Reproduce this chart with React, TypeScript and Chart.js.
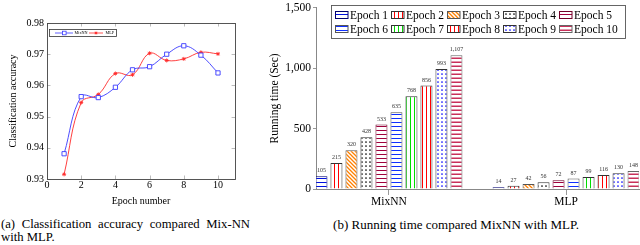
import React, { useEffect, useRef } from 'react';
import { Chart, registerables } from 'chart.js';
Chart.register(...registerables);

// ---- data: (a) accuracy ----
const epochs = [1, 2, 3, 4, 5, 6, 7, 8, 9, 10];
const mixnnAcc = [0.9381, 0.9564, 0.9561, 0.9594, 0.965, 0.966, 0.97, 0.9727, 0.9697, 0.964];
const mlpAcc = [0.9315, 0.9545, 0.9571, 0.9638, 0.9634, 0.9703, 0.968, 0.9685, 0.9706, 0.9701];
const accXTicks = [0, 2, 4, 6, 8, 10];
const accYTicks = [0.93, 0.94, 0.95, 0.96, 0.97, 0.98];
const accSeries = ['MixNN', 'MLP'];

// ---- data: (b) running time ----
const groups = ['MixNN', 'MLP'];
const epochLabels = ['Epoch 1', 'Epoch 2', 'Epoch 3', 'Epoch 4', 'Epoch 5', 'Epoch 6', 'Epoch 7', 'Epoch 8', 'Epoch 9', 'Epoch 10'];
const mixnnTime = [105, 215, 320, 428, 533, 635, 768, 856, 993, 1107];
const mlpTime = [14, 27, 42, 56, 72, 87, 99, 116, 130, 148];
const timeYTicks = [0, 500, 1000, 1500];

const SERIF = "'Liberation Serif', 'DejaVu Serif', serif";

type PatSpec = { kind: string; color: string; border: string };
const patSpecs: PatSpec[] = [
  { kind: 'h', color: '#0010e0', border: '#000070' },
  { kind: 'v', color: '#ff0000', border: '#333333' },
  { kind: 'd', color: '#ff8000', border: '#555555' },
  { kind: 'dots', color: '#000000', border: '#333333' },
  { kind: 'h', color: '#a0003c', border: '#700028' },
  { kind: 'h', color: '#1030ff', border: '#555555' },
  { kind: 'v', color: '#00dd00', border: '#333333' },
  { kind: 'v', color: '#ff0000', border: '#333333' },
  { kind: 'dots', color: '#0000ff', border: '#333333' },
  { kind: 'h2', color: '#c8305a', border: '#666666' },
];

function makePattern(kind: string, color: string): CanvasPattern {
  const c = document.createElement('canvas');
  const s = 4;
  c.width = s;
  c.height = s;
  const g = c.getContext('2d')!;
  g.fillStyle = '#ffffff';
  g.fillRect(0, 0, s, s);
  g.fillStyle = color;
  g.strokeStyle = color;
  if (kind === 'h') {
    g.fillRect(0, 2, s, 1);
  } else if (kind === 'h2') {
    g.fillRect(0, 1.5, s, 1.5);
  } else if (kind === 'v') {
    g.fillRect(2, 0, 1, s);
  } else if (kind === 'd') {
    g.lineWidth = 1.3;
    g.beginPath();
    g.moveTo(-1, -1); g.lineTo(s + 1, s + 1);
    g.moveTo(-1, s - 1); g.lineTo(1, s + 1);
    g.moveTo(s - 1, -1); g.lineTo(s + 1, 1);
    g.stroke();
  } else if (kind === 'dots') {
    g.beginPath();
    g.arc(2, 2, 0.85, 0, Math.PI * 2);
    g.fill();
  }
  return g.createPattern(c, 'repeat')!;
}

export default function App() {
  const accRef = useRef<HTMLCanvasElement>(null);
  const timeRef = useRef<HTMLCanvasElement>(null);

  useEffect(() => {
    const accColors = ['#3a3aff', '#ff2a2a'];

    const accFrame = {
      id: 'accFrame',
      beforeDatasetsDraw(chart: any) {
        const { ctx, chartArea: a, scales } = chart;
        ctx.save();
        ctx.strokeStyle = '#aaaaaa';
        ctx.lineWidth = 0.8;
        ctx.beginPath();
        accXTicks.forEach((v) => {
          const px = Math.round(scales.x.getPixelForValue(v)) + 0.5;
          ctx.moveTo(px, a.top); ctx.lineTo(px, a.top + 3.5);
          ctx.moveTo(px, a.bottom); ctx.lineTo(px, a.bottom - 3.5);
        });
        accYTicks.forEach((v) => {
          const py = Math.round(scales.y.getPixelForValue(v)) + 0.5;
          ctx.moveTo(a.left, py); ctx.lineTo(a.left + 3.5, py);
          ctx.moveTo(a.right, py); ctx.lineTo(a.right - 3.5, py);
        });
        ctx.stroke();
        ctx.strokeStyle = '#444444';
        ctx.lineWidth = 0.9;
        ctx.strokeRect(Math.round(a.left) + 0.5, Math.round(a.top) + 0.5, Math.round(a.right - a.left), Math.round(a.bottom - a.top));
        ctx.restore();
      },
      afterDraw(chart: any) {
        const { ctx } = chart;
        ctx.save();
        const bx = 49.5, by = 29.5, bw = 67, bh = 7;
        ctx.fillStyle = '#fff';
        ctx.fillRect(bx, by, bw, bh);
        ctx.strokeStyle = '#333';
        ctx.lineWidth = 0.8;
        ctx.strokeRect(bx, by, bw, bh);
        const cy = by + bh / 2;
        ctx.font = `4.2px ${SERIF}`;
        ctx.textBaseline = 'middle';
        ctx.textAlign = 'left';
        // series 0
        ctx.strokeStyle = accColors[0];
        ctx.lineWidth = 0.8;
        ctx.beginPath(); ctx.moveTo(55, cy); ctx.lineTo(73, cy); ctx.stroke();
        ctx.fillStyle = '#fff';
        ctx.fillRect(62.5, cy - 1.8, 3.6, 3.6);
        ctx.strokeRect(62.5, cy - 1.8, 3.6, 3.6);
        ctx.fillStyle = '#000';
        ctx.fillText(accSeries[0], 74.5, cy);
        // series 1
        ctx.strokeStyle = accColors[1];
        ctx.beginPath(); ctx.moveTo(89, cy); ctx.lineTo(103, cy); ctx.stroke();
        ctx.beginPath();
        for (let k = 0; k < 4; k++) {
          const ang = (k * Math.PI) / 4;
          ctx.moveTo(96 - Math.cos(ang) * 1.6, cy - Math.sin(ang) * 1.6);
          ctx.lineTo(96 + Math.cos(ang) * 1.6, cy + Math.sin(ang) * 1.6);
        }
        ctx.stroke();
        ctx.fillStyle = '#000';
        ctx.fillText(accSeries[1], 105.5, cy);
        ctx.restore();
      },
    };

    const acc = new Chart(accRef.current!, {
      type: 'line',
      data: {
        datasets: [
          {
            label: accSeries[0],
            data: epochs.map((e, i) => ({ x: e, y: mixnnAcc[i] })),
            borderColor: accColors[0],
            backgroundColor: '#ffffff',
            borderWidth: 0.9,
            pointStyle: 'rect',
            pointRadius: 3,
            pointBorderWidth: 0.9,
            pointBorderColor: accColors[0],
            pointBackgroundColor: '#ffffff',
            tension: 0.4,
          },
          {
            label: accSeries[1],
            data: epochs.map((e, i) => ({ x: e, y: mlpAcc[i] })),
            borderColor: accColors[1],
            backgroundColor: accColors[1],
            borderWidth: 0.9,
            pointStyle: 'star',
            pointRadius: 2,
            pointBorderWidth: 0.9,
            pointBorderColor: accColors[1],
            tension: 0.4,
          },
        ],
      },
      options: {
        responsive: false,
        animation: false,
        devicePixelRatio: 1,
        layout: { padding: { top: 23, right: 4, left: 0, bottom: 0 } },
        plugins: { legend: { display: false }, tooltip: { enabled: false } },
        scales: {
          x: {
            type: 'linear',
            min: 0,
            max: 11,
            afterBuildTicks: (s: any) => { s.ticks = accXTicks.map((v) => ({ value: v })); },
            ticks: { font: { family: SERIF, size: 10 }, color: '#000', padding: 0, maxRotation: 0, autoSkip: false },
            grid: { display: false, drawTicks: false },
            border: { display: false },
            title: { display: true, text: 'Epoch number', font: { family: SERIF, size: 10 }, color: '#000', padding: { top: 4, bottom: 4 } },
          },
          y: {
            type: 'linear',
            min: 0.93,
            max: 0.98,
            afterBuildTicks: (s: any) => { s.ticks = accYTicks.map((v) => ({ value: v })); },
            afterFit: (s: any) => { s.width = 47; },
            ticks: { font: { family: SERIF, size: 10 }, color: '#000', padding: 3, callback: (v: any) => Number(v).toFixed(2) },
            grid: { display: false, drawTicks: false },
            border: { display: false },
            title: { display: true, text: 'Classification accuracy', font: { family: SERIF, size: 10 }, color: '#000', padding: { top: 7, bottom: 4 } },
          },
        },
      },
      plugins: [accFrame],
    } as any);

    const patterns = patSpecs.map((p) => makePattern(p.kind, p.color));

    const timeExtras = {
      id: 'timeExtras',
      afterDatasetsDraw(chart: any) {
        const { ctx } = chart;
        ctx.save();
        ctx.font = `6px ${SERIF}`;
        ctx.fillStyle = '#333';
        ctx.textAlign = 'center';
        ctx.textBaseline = 'bottom';
        chart.data.datasets.forEach((ds: any, i: number) => {
          const meta = chart.getDatasetMeta(i);
          meta.data.forEach((el: any, j: number) => {
            const v = ds.data[j].y;
            ctx.fillText(Number(v).toLocaleString('en-US'), el.x, el.y - 2.5);
          });
        });
        ctx.restore();
      },
      afterDraw(chart: any) {
        const { ctx } = chart;
        ctx.save();
        const bx = 91.5, by = 5.5, bw = 294, bh = 33;
        ctx.fillStyle = '#fff';
        ctx.fillRect(bx, by, bw, bh);
        ctx.strokeStyle = '#555';
        ctx.lineWidth = 0.9;
        ctx.strokeRect(bx, by, bw, bh);
        ctx.font = `11.5px ${SERIF}`;
        ctx.textBaseline = 'middle';
        ctx.textAlign = 'left';
        chart.data.datasets.forEach((ds: any, i: number) => {
          const col = i % 5;
          const row = Math.floor(i / 5);
          const x = 95 + col * 56;
          const cy = row === 0 ? 15 : 29;
          ctx.fillStyle = ds.backgroundColor;
          ctx.fillRect(x, cy - 3.5, 13, 7);
          ctx.strokeStyle = ds.borderColor;
          ctx.lineWidth = 1;
          ctx.strokeRect(x + 0.5, cy - 3.5, 12.5, 7);
          ctx.fillStyle = '#000';
          ctx.fillText(ds.label, x + 15, cy + 0.5);
        });
        ctx.restore();
      },
    };

    const time = new Chart(timeRef.current!, {
      type: 'bar',
      data: {
        datasets: epochLabels.map((lab, i) => ({
          label: lab,
          data: [
            { x: 0, y: mixnnTime[i] },
            { x: 1, y: mlpTime[i] },
          ],
          backgroundColor: patterns[i],
          borderColor: patSpecs[i].border,
          borderWidth: 1,
          categoryPercentage: 0.847,
          barPercentage: 0.8,
        })),
      },
      options: {
        responsive: false,
        animation: false,
        devicePixelRatio: 1,
        layout: { padding: { top: 6, right: 1, left: 0, bottom: 0 } },
        plugins: { legend: { display: false }, tooltip: { enabled: false } },
        scales: {
          x: {
            type: 'linear',
            min: -0.412,
            max: 1.412,
            offset: false,
            afterBuildTicks: (s: any) => { s.ticks = groups.map((_, i) => ({ value: i })); },
            afterFit: (s: any) => { s.height = 26; },
            ticks: { font: { family: SERIF, size: 11.5 }, color: '#000', padding: 0, maxRotation: 0, autoSkip: false, callback: (v: any) => groups[Number(v)] ?? '' },
            grid: { drawOnChartArea: false, tickLength: 6, color: '#999', offset: false },
            border: { color: '#888', width: 1 },
          },
          y: {
            type: 'linear',
            min: 0,
            max: 1500,
            afterBuildTicks: (s: any) => { s.ticks = timeYTicks.map((v) => ({ value: v })); },
            afterFit: (s: any) => { s.width = 76; },
            ticks: { font: { family: SERIF, size: 11.5, lineHeight: 1 }, color: '#000', padding: 2, callback: (v: any) => Number(v).toLocaleString('en-US') },
            grid: { drawOnChartArea: false, tickLength: 3, color: '#999' },
            border: { color: '#888', width: 1 },
            title: { display: true, text: 'Running time (Sec)', font: { family: SERIF, size: 11.5 }, color: '#000', padding: { top: 28, bottom: 0 } },
          },
        },
      },
      plugins: [timeExtras],
    } as any);

    return () => {
      acc.destroy();
      time.destroy();
    };
  }, []);

  const capStyle: React.CSSProperties = {
    position: 'absolute',
    fontFamily: SERIF,
    fontSize: '12.7px',
    lineHeight: '13px',
    color: '#000',
    margin: 0,
  };

  return (
    <div style={{ position: 'absolute', left: 0, top: 0, width: 640, height: 245, background: '#fff', overflow: 'hidden' }}>
      <canvas ref={accRef} width={240} height={211} style={{ position: 'absolute', left: 0, top: 0, width: 240, height: 211 }} />
      <canvas ref={timeRef} width={400} height={215} style={{ position: 'absolute', left: 240, top: 0, width: 400, height: 215 }} />
      <div style={{ ...capStyle, left: 1, top: 218, width: 249, textAlign: 'justify', textAlignLast: 'left' }}>
        (a) Classification accuracy compared Mix-NN with MLP.
      </div>
      <div style={{ ...capStyle, left: 300, top: 218, width: 312, textAlign: 'center', fontSize: '13px' }}>
        (b) Running time compared MixNN with MLP.
      </div>
    </div>
  );
}
